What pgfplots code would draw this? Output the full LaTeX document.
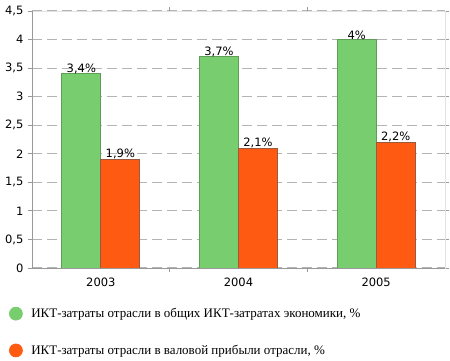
\documentclass[border=0pt]{standalone}
\usepackage{pgfplots}
\pgfplotsset{compat=1.18}
\usepackage{fontspec}
\setmainfont{DejaVu Sans}
\newfontfamily\legfont{Liberation Serif}
\definecolor{cgreen}{HTML}{78CD6E}
\definecolor{cgreenb}{HTML}{5E9E55}
\definecolor{corange}{HTML}{FF5A12}
\definecolor{corangeb}{HTML}{B04010}
\definecolor{gridc}{HTML}{B4B4B4}
\definecolor{axisc}{HTML}{999999}
\definecolor{framec}{HTML}{E2E2E2}
\begin{document}
\begin{tikzpicture}
\begin{axis}[
  at={(0,0)}, anchor=south west,
  scale only axis, width=413pt, height=257pt,
  xmin=-0.5, xmax=2.5, ymin=0, ymax=4.5,
  ybar=0pt, bar width=39pt,
  xtick={0,1,2}, xticklabels={2003,2004,2005},
  minor xtick={0.5,1.5},
  ytick={0,0.5,...,4.5},
  /pgf/number format/use comma,
  /pgf/number format/assume math mode=true,
  ticklabel style={font=\fontsize{11.5}{13}\selectfont, text=black},
  xticklabel style={yshift=-2pt},
  major x tick style={draw=none},
  minor x tick style={draw=axisc, line width=0.8pt},
  tick style={draw=axisc, line width=0.8pt},
  tick align=outside, major tick length=4pt, minor tick length=4pt,
  yticklabel style={xshift=-1pt},
  ymajorgrids, grid style={draw=gridc, line width=1.1pt, dash pattern=on 10pt off 5pt},
  axis line style={draw=framec, line width=0.8pt},
  nodes near coords, point meta=explicit symbolic,
  every node near coord/.append style={font=\fontsize{11.5}{13}\selectfont, text=black, inner sep=1pt, yshift=-1pt},
  legend style={at={(-0.056,-0.148)}, anchor=north west, draw=none, fill=none,
    font=\legfont\fontsize{13}{15}\selectfont, row sep=22pt, inner sep=0pt,
    /tikz/every even column/.append style={column sep=0pt}},
  legend cell align=left,
  clip=false,
]
\addplot[fill=cgreen, draw=cgreenb, line width=0.7pt,
  legend image code/.code={\fill[cgreen] (5pt,0pt) circle (6.5pt);\path (18pt,0) ;}]
  coordinates {(0,3.4) [3{,}4\%] (1,3.7) [3{,}7\%] (2,4.0) [4\%]};
\addlegendentry{ИКТ-затраты отрасли в общих ИКТ-затратах экономики, \%}
\addplot[fill=corange, draw=corangeb!60!gray, line width=0.7pt,
  legend image code/.code={\fill[corange] (5pt,0pt) circle (6.5pt);\path (18pt,0) ;}]
  coordinates {(0,1.9) [1{,}9\%] (1,2.1) [2{,}1\%] (2,2.2) [2{,}2\%]};
\addlegendentry{ИКТ-затраты отрасли в валовой прибыли отрасли, \%}
\draw[axisc, line width=0.8pt] (rel axis cs:0,0) -- (rel axis cs:0,1);
\draw[axisc, line width=0.8pt] (rel axis cs:0,0) -- (rel axis cs:1,0);
\end{axis}
\pgfresetboundingbox
\path[use as bounding box] (-32pt,-92pt) rectangle (418pt,268pt);
\end{tikzpicture}
\end{document}
